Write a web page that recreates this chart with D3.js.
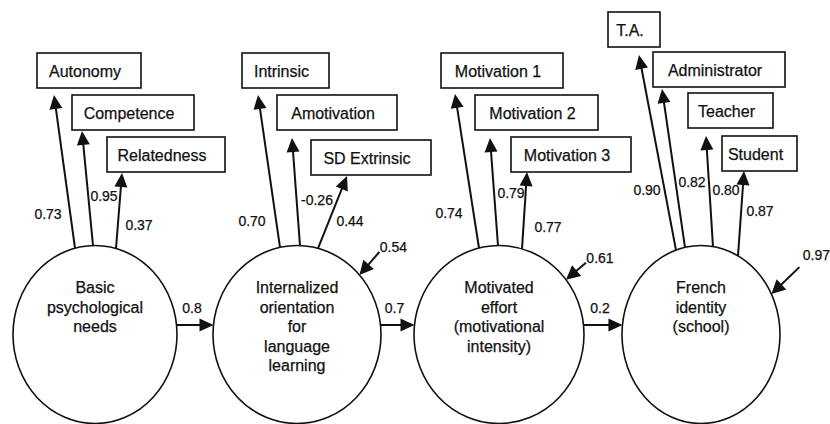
<!DOCTYPE html>
<html>
<head>
<meta charset="utf-8">
<script src="https://cdn.jsdelivr.net/npm/d3@7"></script>
<style>
  html, body { margin: 0; padding: 0; background: #fff; }
  svg { display: block; }
  text { stroke: #111; stroke-width: 0.25px; }
</style>
</head>
<body>
<svg id="chart" width="830" height="424"></svg>
<script>
// ---- Model values -------------------------------------------------------
// Latent factors, left to right along the structural chain
const factors = [
  "Basic psychological needs",
  "Internalized orientation for language learning",
  "Motivated effort (motivational intensity)",
  "French identity (school)"
];
const factorLines = [
  ["Basic", "psychological", "needs"],
  ["Internalized", "orientation", "for", "language", "learning"],
  ["Motivated", "effort", "(motivational", "intensity)"],
  ["French", "identity", "(school)"]
];
// Observed indicators of each factor
const indicators = [
  ["Autonomy", "Competence", "Relatedness"],
  ["Intrinsic", "Amotivation", "SD Extrinsic"],
  ["Motivation 1", "Motivation 2", "Motivation 3"],
  ["T.A.", "Administrator", "Teacher", "Student"]
];
// Standardized factor loadings
const loadings = [
  [0.73, 0.95, 0.37],
  [0.70, -0.26, 0.44],
  [0.74, 0.79, 0.77],
  [0.90, 0.82, 0.80, 0.87]
];
// Structural paths between consecutive factors
const pathCoefficients = [0.8, 0.7, 0.2];
// Disturbance terms of the endogenous factors
const disturbances = [null, 0.54, 0.61, 0.97];

// ---- Diagram layout -----------------------------------------------------
const W = 830, H = 424;
const cy = 334.5, ry = 89;
const rx = [82, 84, 85, 79];
const pathY = 325;
// per indicator: where the loading arrow leaves the ellipse (offset from centre)
const startDx = [[-20, -2, 21], [-17, 3, 21], [-20, -1, 23], [-25, -16, 12, 37]];
// indicator boxes: left edge offset from centre, top edge, width
const boxDx = [[-58, -23, 12], [-55, -20, 14], [-58, -24, 12], [-93, -48, -13, 21]];
const boxTop = [[53, 95, 137], [53, 95, 140], [53, 95, 137], [12, 52, 93, 136]];
const boxW = [[104, 122, 118], [87, 120, 120], [122, 123, 120], [52, 132, 85, 75]];
const boxH = 35;
// arrow tip: offset from box left edge, and gap below the box
const tipDx = [[17, 10, 15], [16, 15, 36], [14, 15, 16], [31, 9, 18, 22]];
const tipGap = [[7, 1, 1], [7, 8, 1], [6, 8, 0], [8, 2, 8, 0]];
// loading label centres: offset from factor centre, y
const labelPos = [
  [[-47, 214], [9, 196], [44, 225]],
  [[-45, 221], [20, 200], [53, 221]],
  [[-50, 213], [12, 193], [49, 227]],
  [[-54, 190], [-9, 182], [25, 190], [59, 211]]
];
// disturbance arrows: angle on the ellipse (deg), vector from tip to tail, label offset from tail
const distAngle = [null, 42, 38, 27];
const distVec = [null, [20, -23], [20, -17], [28, -27]];
const distLabel = [null, [14, -5], [14, -5], [17, -12]];

const FONT = "'Liberation Sans', Arial, Helvetica, sans-serif";
const INK = "#111";

// plain hyphen-minus for negative values
const locale = d3.formatLocale({ decimal: ".", thousands: ",", grouping: [3], currency: ["", ""], minus: "-" });
const fmtLoad = locale.format(".2f");
const fmtPath = locale.format(".1f");

const x = d3.scalePoint().domain(factors).range([95, 701]);

const svg = d3.select("#chart");
svg.append("rect").attr("width", W).attr("height", H).attr("fill", "#fff");
const g = svg.append("g");

// point on the ellipse top for a horizontal offset
function topY(f, dx) {
  const t = dx / rx[f];
  return cy - ry * Math.sqrt(Math.max(0, 1 - t * t));
}
// horizontal edge of the ellipse at a given y
function edgeDx(f, y) {
  const t = (y - cy) / ry;
  return rx[f] * Math.sqrt(Math.max(0, 1 - t * t));
}
// shaft + solid triangular head
function arrowGeom(x1, y1, x2, y2, head = 14, half = 6.5) {
  const dx = x2 - x1, dy = y2 - y1, L = Math.hypot(dx, dy);
  const ux = dx / L, uy = dy / L;
  const bx = x2 - ux * head, by = y2 - uy * head;
  return {
    x1, y1, x2: x2 - ux * (head - 3), y2: y2 - uy * (head - 3),
    head: `M${x2},${y2}L${bx - uy * half},${by + ux * half}L${bx + uy * half},${by - ux * half}Z`
  };
}

// ---- Flatten indicator records ------------------------------------------
const items = [];
factors.forEach((fname, f) => {
  const cx = x(fname);
  indicators[f].forEach((name, i) => {
    const bx = cx + boxDx[f][i], by = boxTop[f][i];
    const sx = cx + startDx[f][i], sy = topY(f, startDx[f][i]);
    const tx = bx + tipDx[f][i], ty = by + boxH + tipGap[f][i];
    items.push({
      name, value: loadings[f][i],
      box: { x: bx, y: by, w: boxW[f][i], h: boxH },
      arrow: arrowGeom(sx, sy, tx, ty),
      label: { x: cx + labelPos[f][i][0], y: labelPos[f][i][1] }
    });
  });
});

// ---- Loading arrows -----------------------------------------------------
const load = g.append("g").selectAll("g").data(items).join("g");
load.append("line")
  .attr("x1", d => d.arrow.x1).attr("y1", d => d.arrow.y1)
  .attr("x2", d => d.arrow.x2).attr("y2", d => d.arrow.y2)
  .attr("stroke", INK).attr("stroke-width", 2);
load.append("path").attr("d", d => d.arrow.head).attr("fill", INK);

// ---- Indicator boxes ----------------------------------------------------
const boxes = g.append("g").selectAll("g").data(items).join("g");
boxes.append("rect")
  .attr("x", d => d.box.x).attr("y", d => d.box.y)
  .attr("width", d => d.box.w).attr("height", d => d.box.h)
  .attr("fill", "#fff").attr("stroke", INK).attr("stroke-width", 1.6);
boxes.append("text")
  .attr("x", d => d.box.x + d.box.w / 2 - 4)
  .attr("y", d => d.box.y + d.box.h / 2 + 6)
  .attr("text-anchor", "middle")
  .attr("font-family", FONT).attr("font-size", 16).attr("fill", INK)
  .text(d => d.name);

// ---- Loading labels -----------------------------------------------------
g.append("g").selectAll("text").data(items).join("text")
  .attr("x", d => d.label.x).attr("y", d => d.label.y + 5)
  .attr("text-anchor", "middle")
  .attr("font-family", FONT).attr("font-size", 14).attr("fill", INK)
  .text(d => fmtLoad(d.value));

// ---- Latent factors -----------------------------------------------------
const nodes = g.append("g").selectAll("g").data(factors).join("g");
nodes.append("ellipse")
  .attr("cx", d => x(d)).attr("cy", cy)
  .attr("rx", (d, f) => rx[f]).attr("ry", ry)
  .attr("fill", "#fff").attr("stroke", INK).attr("stroke-width", 1.6);
nodes.append("text")
  .attr("text-anchor", "middle")
  .attr("font-family", FONT).attr("font-size", 16).attr("fill", INK)
  .selectAll("tspan").data((d, f) => factorLines[f].map(t => ({ t, cx: x(d) }))).join("tspan")
  .attr("x", d => d.cx)
  .attr("y", (d, i) => 293 + i * 19.5)
  .text(d => d.t);

// ---- Structural paths ---------------------------------------------------
const paths = pathCoefficients.map((v, i) => {
  const x1 = x(factors[i]) + edgeDx(i, pathY);
  const x2 = x(factors[i + 1]) - edgeDx(i + 1, pathY);
  return { v, a: arrowGeom(x1, pathY, x2, pathY, 14, 6.5), mid: (x1 + x2) / 2 };
});
const pg = g.append("g").selectAll("g").data(paths).join("g");
pg.append("line")
  .attr("x1", d => d.a.x1).attr("y1", d => d.a.y1)
  .attr("x2", d => d.a.x2).attr("y2", d => d.a.y2)
  .attr("stroke", INK).attr("stroke-width", 2);
pg.append("path").attr("d", d => d.a.head).attr("fill", INK);
pg.append("text")
  .attr("x", d => d.mid - 3).attr("y", pathY - 12)
  .attr("text-anchor", "middle")
  .attr("font-family", FONT).attr("font-size", 14).attr("fill", INK)
  .text(d => fmtPath(d.v));

// ---- Disturbances -------------------------------------------------------
const dist = disturbances.map((v, f) => {
  if (v === null) return null;
  const th = distAngle[f] * Math.PI / 180;
  const tx = x(factors[f]) + rx[f] * Math.cos(th);
  const ty = cy - ry * Math.sin(th);
  const sx = tx + distVec[f][0], sy = ty + distVec[f][1];
  return { v, a: arrowGeom(sx, sy, tx, ty, 14, 7),
           lx: sx + distLabel[f][0], ly: sy + distLabel[f][1] };
}).filter(d => d);
const dg = g.append("g").selectAll("g").data(dist).join("g");
dg.append("line")
  .attr("x1", d => d.a.x1).attr("y1", d => d.a.y1)
  .attr("x2", d => d.a.x2).attr("y2", d => d.a.y2)
  .attr("stroke", INK).attr("stroke-width", 2);
dg.append("path").attr("d", d => d.a.head).attr("fill", INK);
dg.append("text")
  .attr("x", d => d.lx).attr("y", d => d.ly + 5)
  .attr("text-anchor", "middle")
  .attr("font-family", FONT).attr("font-size", 14).attr("fill", INK)
  .text(d => fmtLoad(d.v));
</script>
</body>
</html>
